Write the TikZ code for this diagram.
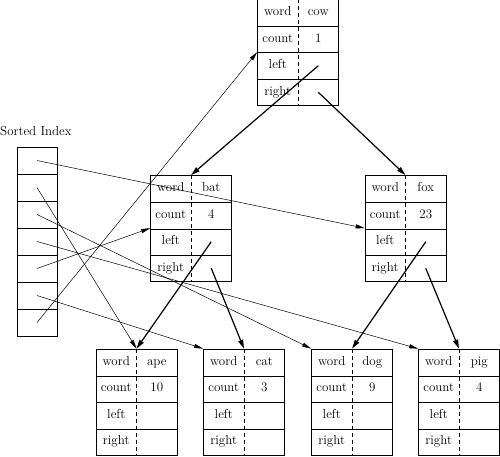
\documentclass[tikz,border=0pt]{standalone}
\usetikzlibrary{matrix,arrows.meta}

\tikzset{
  cell/.style={minimum width=40.5pt, minimum height=26.5pt, inner sep=0pt, anchor=center,
    text height=8.5pt, text depth=2.5pt, font=\fontsize{13}{15}\selectfont},
  record/.style={matrix of nodes, nodes={cell}, nodes in empty cells, ampersand replacement=\&, draw, line width=0.7pt, inner sep=0pt},
  divider/.style={line width=0.6pt, dash pattern=on 4pt off 3pt},
  index node/.style={draw, line width=0.7pt, minimum width=40pt, minimum height=27pt, inner sep=0pt},
  link/.style={line width=0.5pt, -{Triangle[length=9pt,width=4pt]}},
  child/.style={line width=1.2pt, -{Triangle[length=9pt,width=5pt]}},
}

% one tree record: name, position, word, count
\newcommand{\record}[4]{%
  \matrix[record] (#1) at (#2) {word \& #3\\ count \& #4\\ left \& \\ right \& \\};
  \foreach \n in {1,2,3} \draw[line width=0.7pt] (#1-\n-1.south west) -- (#1-\n-2.south east);
  \draw[divider] (#1.north) -- (#1.south);
}

\begin{document}
\begin{tikzpicture}[x=1pt, y=-1pt, node distance=27pt]
\useasboundingbox (0,0) rectangle (500,457);

\record{cow}{298,52.5}{cow}{1}
\record{bat}{191,228.5}{bat}{4}
\record{fox}{405.5,228.5}{fox}{23}
\record{ape}{136.5,402}{ape}{10}
\record{cat}{244,402}{cat}{3}
\record{dog}{352,402}{dog}{9}
\record{pig}{459,402}{pig}{4}

\node[anchor=west, inner sep=0pt, font=\fontsize{13}{15}\selectfont] (title) at (0,131) {Sorted Index};
\node[index node] (idx-1) at (37,160.5) {};
\foreach \n [count=\p] in {2,...,7}
  \node[index node, below of=idx-\p] (idx-\n) {};

\draw[link] (idx-1.center) -- (fox-3-1.north west);
\draw[link] (idx-2.center) -- (ape.north);
\draw[link] (idx-3.center) -- (dog.north west);
\draw[link] (idx-4.center) -- (pig.north west);
\draw[link] (idx-5.center) -- (bat-3-1.north west);
\draw[link] (idx-6.center) -- (cat.north west);
\draw[link] (idx-7.center) -- (cow-3-1.north west);

\path[child]
(cow-3-2.center) edge (bat.north)
(cow-4-2.center) edge (fox.north)
(bat-3-2.center) edge (ape.north)
(bat-4-2.center) edge (cat.north)
(fox-3-2.center) edge (dog.north)
(fox-4-2.center) edge (pig.north);
\end{tikzpicture}
\end{document}
